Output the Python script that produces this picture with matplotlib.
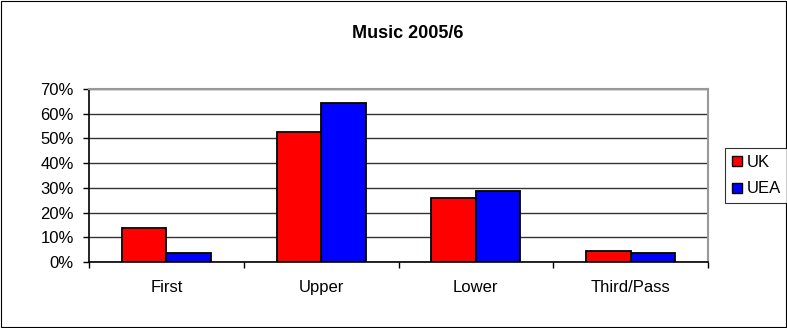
import matplotlib
matplotlib.use("Agg")
import matplotlib.pyplot as plt
import numpy as np
from matplotlib.patches import Rectangle
from matplotlib.lines import Line2D

plt.rcParams['font.family'] = ['Liberation Sans', 'DejaVu Sans']

categories = ["First", "Upper", "Lower", "Third/Pass"]
uk = [13.9, 52.7, 25.8, 4.6]
uea = [3.8, 64.5, 28.6, 3.8]
series_names = ["UK", "UEA"]
colors = ["#ff0000", "#0000ff"]
yticks = [0, 10, 20, 30, 40, 50, 60, 70]
title = "Music 2005/6"

fig = plt.figure(figsize=(7.87, 3.28), dpi=100)
fig.patches.append(Rectangle((0.001, 0.002), 0.998, 0.995, transform=fig.transFigure,
                             fill=False, edgecolor="black", linewidth=0.8))
ax = fig.add_axes([89/787, 1-262/328, (708-89)/787, (262-89)/328])

x = np.arange(len(categories))
w = 0.287
ax.bar(x - w/2, uk, width=w, color=colors[0], edgecolor="black", linewidth=1.3, zorder=3)
ax.bar(x + w/2, uea, width=w, color=colors[1], edgecolor="black", linewidth=1.3, zorder=3)

ax.set_xlim(-0.5, len(categories) - 0.5)
ax.set_ylim(0, 70)
ax.set_yticks(yticks)
ax.set_yticklabels([f"{v}%" for v in yticks], fontsize=12)
ax.yaxis.grid(True, color="#333333", linewidth=1, zorder=0)
ax.set_xticks(x)
ax.set_xticklabels(categories, fontsize=12)
ax.set_xticks(np.arange(len(categories) + 1) - 0.5, minor=True)
ax.tick_params(axis="x", which="major", length=0, pad=13)
ax.tick_params(axis="x", which="minor", length=4.5, width=1, direction="out")
ax.tick_params(axis="y", length=4, width=1, direction="out", pad=7)

for s in ["top", "right"]:
    ax.spines[s].set_color("#999999")
    ax.spines[s].set_linewidth(1.5)
for s in ["left", "bottom"]:
    ax.spines[s].set_color("black")
    ax.spines[s].set_linewidth(1.2)

fig.text(408/787, 1-34/328, title, fontsize=13, fontweight="bold", ha="center", va="center")

handles = [Line2D([], [], marker="s", linestyle="none", markerfacecolor=c,
                  markeredgecolor="black", markersize=7) for c in colors]
leg = fig.legend(handles, series_names, loc="upper left",
                 bbox_to_anchor=(725/787, 1-148/328), fontsize=12,
                 frameon=True, fancybox=False, edgecolor="black",
                 handlelength=0.6, handletextpad=0.3, borderpad=0.4,
                 labelspacing=0.7, borderaxespad=0)
leg.get_frame().set_linewidth(0.8)

fig.savefig("out.png", dpi=100)
